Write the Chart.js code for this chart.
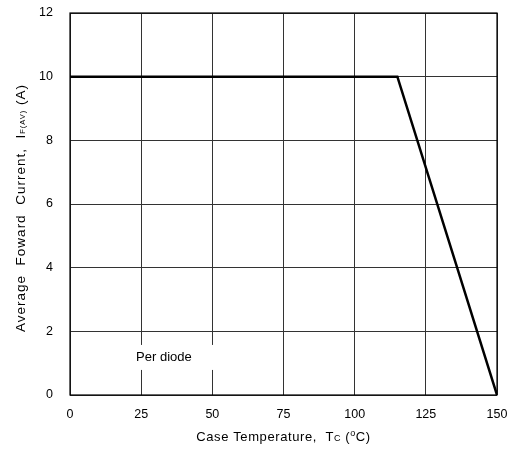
<!DOCTYPE html>
<html lang="en">
<head>
    <meta charset="UTF-8">
    <title>Average Forward Current vs Case Temperature</title>
    <script src="https://cdn.jsdelivr.net/npm/chart.js"></script>
    <style>
        * { margin: 0; padding: 0; box-sizing: border-box; }
        body { background: #fff; width: 517px; height: 455px; overflow: hidden; }
        canvas { display: block; }
    </style>
</head>
<body>
    <canvas id="derating" width="517" height="455"></canvas>

    <script>
        // Data
        const caseTemps = [0, 115, 150];
        const forwardCurrents = [10, 10, 0];
        const xTicks = [0, 25, 50, 75, 100, 125, 150];
        const yTicks = [0, 2, 4, 6, 8, 10, 12];

        const FONT = "'Liberation Sans', Arial, sans-serif";

        // draws text made of pieces: [text, size, baseline shift]
        function drawRich(ctx, parts, cx, cy, spacing) {
            ctx.letterSpacing = spacing + 'px';
            let total = 0;
            parts.forEach(p => {
                ctx.font = p[1] + 'px ' + FONT;
                total += ctx.measureText(p[0]).width;
            });
            let x = cx - total / 2;
            ctx.textAlign = 'left';
            ctx.textBaseline = 'middle';
            parts.forEach(p => {
                ctx.font = p[1] + 'px ' + FONT;
                ctx.fillText(p[0], x, cy + p[2]);
                x += ctx.measureText(p[0]).width;
            });
            ctx.letterSpacing = '0px';
        }

        const decorations = {
            id: 'decorations',
            afterDatasetsDraw(chart) {
                const { ctx, chartArea: a, scales } = chart;
                ctx.save();
                ctx.fillStyle = '#000';

                // "Per diode" label box
                const lx = scales.x.getPixelForValue(33);
                const ly = scales.y.getPixelForValue(1.18);
                ctx.fillStyle = '#fff';
                ctx.fillRect(lx - 38, ly - 12.5, 90, 25);
                ctx.fillStyle = '#000';
                ctx.font = '13px ' + FONT;
                ctx.textAlign = 'center';
                ctx.textBaseline = 'middle';
                ctx.fillText('Per diode', lx, ly);

                // x axis title
                drawRich(ctx, [
                    ['Case Temperature,  T', 13, 0],
                    ['C', 9, 2],
                    [' (', 13, 0],
                    ['o', 9, -3],
                    ['C)', 13, 0]
                ], (a.left + a.right) / 2, 437, 0.6);

                // y axis title
                ctx.translate(21, 208);
                ctx.rotate(-Math.PI / 2);
                drawRich(ctx, [
                    ['Average  Foward  Current,  I', 13.5, 0],
                    ['F(AV)', 7.5, 2],
                    [' (A)', 13.5, 0]
                ], 0, 0, 1);
                ctx.restore();

                // plot frame
                ctx.save();
                ctx.strokeStyle = '#000';
                ctx.lineWidth = 1.2;
                ctx.strokeRect(a.left, a.top, a.right - a.left, a.bottom - a.top);
                ctx.restore();
            }
        };

        new Chart(document.getElementById('derating'), {
            type: 'scatter',
            data: {
                datasets: [{
                    data: caseTemps.map((t, i) => ({ x: t, y: forwardCurrents[i] })),
                    showLine: true,
                    borderColor: '#000',
                    borderWidth: 2.5,
                    pointRadius: 0,
                    tension: 0
                }]
            },
            options: {
                responsive: false,
                animation: false,
                devicePixelRatio: 1,
                layout: { padding: { left: 0, right: 20, top: 13, bottom: 0 } },
                plugins: {
                    legend: { display: false },
                    tooltip: { enabled: false }
                },
                scales: {
                    x: {
                        type: 'linear',
                        min: 0,
                        max: 150,
                        afterFit: s => { s.height = 60; s.paddingRight = 0; s.paddingLeft = 0; },
                        afterBuildTicks: s => { s.ticks = xTicks.map(v => ({ value: v })); },
                        grid: { color: '#333', lineWidth: 1, drawTicks: false },
                        border: { display: false },
                        ticks: { color: '#000', padding: 12, font: { family: FONT, size: 12.5 } }
                    },
                    y: {
                        min: 0,
                        max: 12,
                        afterFit: s => { s.width = 70; s.paddingTop = 0; s.paddingBottom = 0; },
                        afterBuildTicks: s => { s.ticks = yTicks.map(v => ({ value: v })); },
                        grid: { color: '#333', lineWidth: 1, drawTicks: false },
                        border: { display: false },
                        ticks: { color: '#000', padding: 17, font: { family: FONT, size: 12.5 } }
                    }
                }
            },
            plugins: [decorations]
        });
    </script>
</body>
</html>
